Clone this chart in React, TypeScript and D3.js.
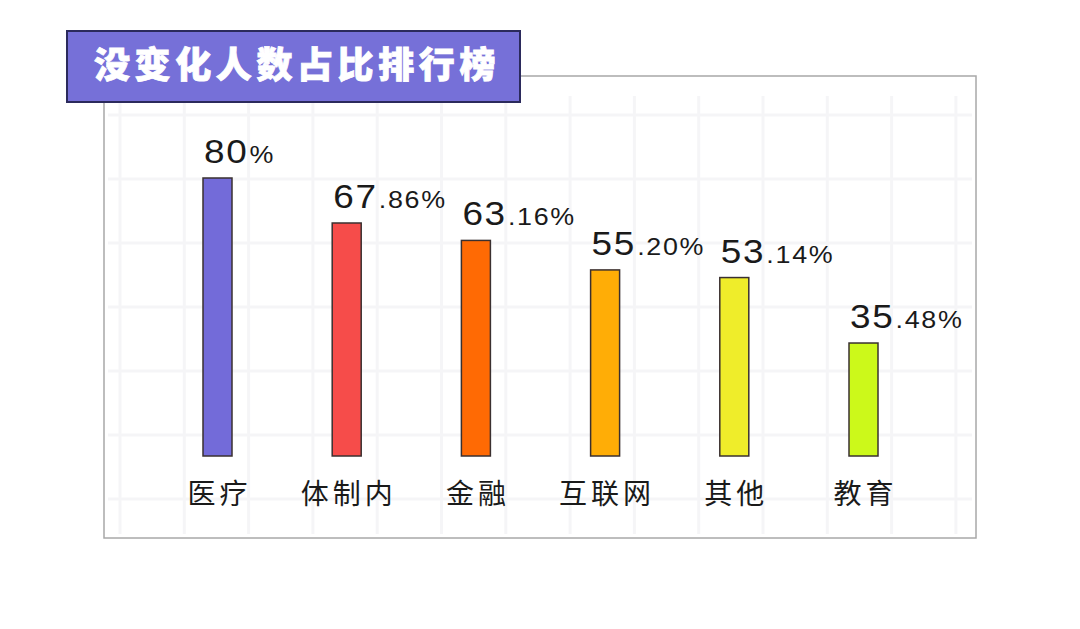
import React from "react";
import * as d3 from "d3";

const categories = ["医疗", "体制内", "金融", "互联网", "其他", "教育"];
const values = [80, 67.86, 63.16, 55.2, 53.14, 35.48];
const valueLabels = ["80%", "67.86%", "63.16%", "55.20%", "53.14%", "35.48%"];
const barColors = ["#736bd9", "#f64c4a", "#ff6a04", "#ffad06", "#efed2a", "#ccf91a"];
const title = "没变化人数占比排行榜";

const W = 1080;
const H = 629;

const App = () => {
  const svgRef = React.useRef<SVGSVGElement>(null);

  React.useEffect(() => {
    const svg = d3.select(svgRef.current);
    svg.selectAll("*").remove();

    const frame = { left: 104, top: 76, right: 976, bottom: 538 };
    const baseY = 456;
    const barW = 29;

    const x = d3.scalePoint<string>().domain(categories).range([217.5, 863.5]);
    const y = d3.scaleLinear().domain([5, 80]).range([baseY, 178]);

    svg.append("rect").attr("width", W).attr("height", H).attr("fill", "#fff");

    // faint grid
    const grid = svg.append("g");
    const gx = d3.range(120, frame.right - 10, 64.3);
    const gy = d3.range(115, frame.bottom - 10, 64);
    grid
      .selectAll(".vx")
      .data(gx)
      .enter()
      .append("line")
      .attr("x1", (d) => d)
      .attr("x2", (d) => d)
      .attr("y1", frame.top + 20)
      .attr("y2", frame.bottom - 4)
      .attr("stroke", "#f5f5f7")
      .attr("stroke-width", 3);
    grid
      .selectAll(".hy")
      .data(gy)
      .enter()
      .append("line")
      .attr("x1", frame.left + 4)
      .attr("x2", frame.right - 4)
      .attr("y1", (d) => d)
      .attr("y2", (d) => d)
      .attr("stroke", "#f5f5f7")
      .attr("stroke-width", 3);

    svg
      .append("rect")
      .attr("x", frame.left)
      .attr("y", frame.top)
      .attr("width", frame.right - frame.left)
      .attr("height", frame.bottom - frame.top)
      .attr("fill", "none")
      .attr("stroke", "#a8a8a8")
      .attr("stroke-width", 1.5);

    // title box
    svg
      .append("rect")
      .attr("x", 67)
      .attr("y", 31)
      .attr("width", 453)
      .attr("height", 71)
      .attr("fill", "#7670d8")
      .attr("stroke", "#2b2a5c")
      .attr("stroke-width", 2);
    svg
      .append("text")
      .attr("x", 297)
      .attr("y", 78)
      .attr("text-anchor", "middle")
      .attr("fill", "#fff")
      .attr("stroke", "#fff")
      .attr("stroke-width", 0.8)
      .attr("font-family", "Noto Sans CJK SC")
      .attr("font-weight", 900)
      .attr("font-size", 36)
      .attr("letter-spacing", 4.6)
      .text(title);

    // bars
    svg
      .selectAll(".bar")
      .data(values)
      .enter()
      .append("rect")
      .attr("x", (d, i) => (x(categories[i]) as number) - barW / 2)
      .attr("y", (d) => y(d))
      .attr("width", barW)
      .attr("height", (d) => baseY - y(d))
      .attr("fill", (d, i) => barColors[i])
      .attr("stroke", "#3a3030")
      .attr("stroke-width", 1.5);

    // value labels: big integer part, small decimal part
    values.forEach((v, i) => {
      const lbl = valueLabels[i];
      const dot = lbl.indexOf(".");
      const big = dot >= 0 ? lbl.slice(0, dot) : lbl.replace("%", "");
      const small = dot >= 0 ? lbl.slice(dot) : "%";
      const g = svg
        .append("g")
        .attr(
          "transform",
          `translate(${(x(categories[i]) as number) - barW / 2 + 1}, ${y(v) - 15}) scale(1.12,1)`
        );
      const t = g
        .append("text")
        .attr("font-family", "Liberation Sans, Arial, sans-serif")
        .attr("fill", "#1a1a1a");
      t.append("tspan").attr("font-size", 33).attr("letter-spacing", 1.5).text(big);
      t.append("tspan").attr("font-size", 24).attr("letter-spacing", 1.5).attr("dx", 1).text(small);
    });

    // category labels
    svg
      .selectAll(".cat")
      .data(categories)
      .enter()
      .append("text")
      .attr("x", (d) => (x(d) as number) + 2)
      .attr("y", 504)
      .attr("text-anchor", "middle")
      .attr("font-family", "Noto Sans CJK SC")
      .attr("font-size", 28)
      .attr("letter-spacing", 4)
      .attr("fill", "#1a1a1a")
      .text((d) => d);
  }, []);

  return (
    <svg
      ref={svgRef}
      width={W}
      height={H}
      style={{ position: "absolute", left: 0, top: 0 }}
    ></svg>
  );
};

export default App;
